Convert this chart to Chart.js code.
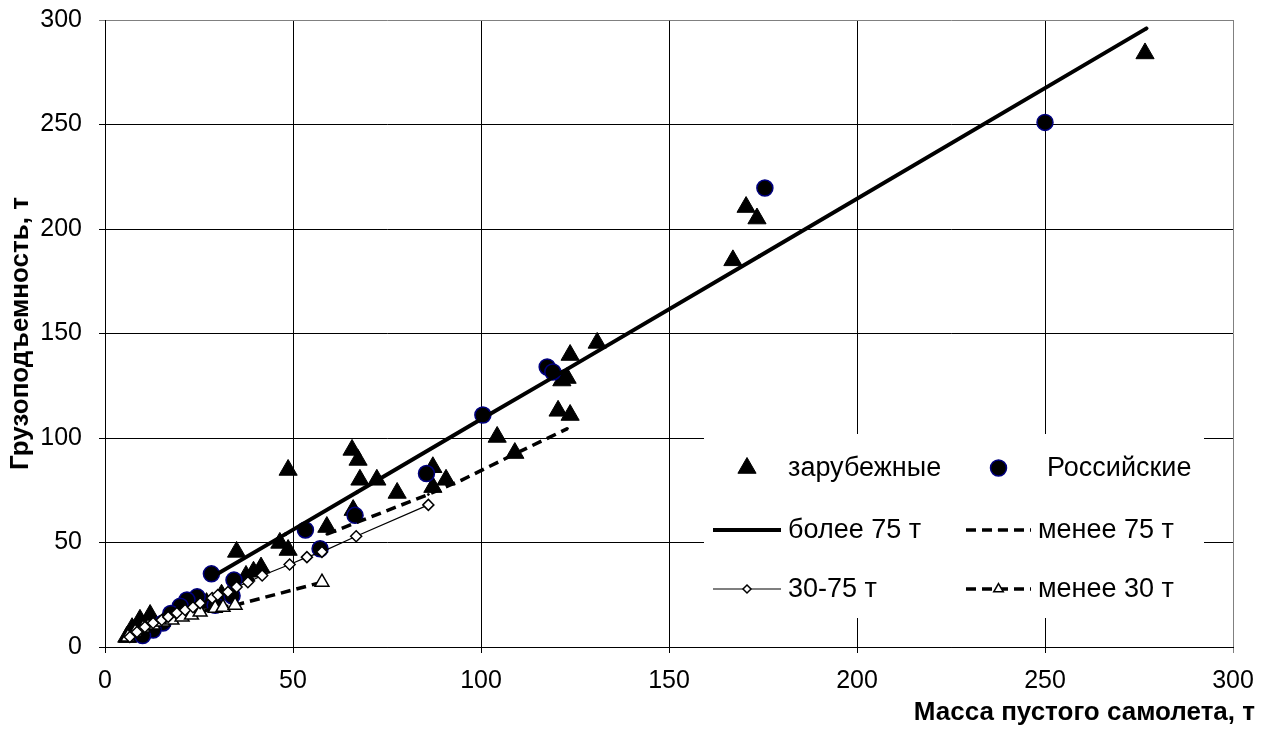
<!DOCTYPE html>
<html>
<head>
<meta charset="utf-8">
<script src="https://cdn.jsdelivr.net/npm/chart.js@4.4.1/dist/chart.umd.min.js"></script>
<style>
  html, body { margin: 0; padding: 0; background: #fff; }
</style>
</head>
<body>
<canvas id="chart" width="1269" height="729"></canvas>
<script>
// ====== данные ======
// зарубежные самолеты
const foreignX = [276.6, 170.5, 173.4, 167, 130.9, 123.7, 122.9, 121.5, 120.5, 123.7,
                  104.3, 109, 87.2, 87.2, 90.7, 77.7, 72.3, 67.8, 67.3, 65.7,
                  66, 59, 48.7, 46.5, 48.7, 35, 41.5, 39.5, 37.5, 31,
                  27, 12, 9.3, 9.8, 7.2, 7.4, 5.8, 6.1];
const foreignY = [284, 210.5, 205, 185, 145.5, 139.7, 128.7, 127.5, 113, 111,
                  100.5, 92.8, 86, 76.5, 80, 73.7, 80, 80, 89.5, 94.3,
                  65.5, 57.4, 84.7, 49.8, 46.4, 45.5, 38, 36, 34, 25,
                  21, 15.3, 13, 10.5, 9, 8.1, 4.8, 4.8];

// российские самолеты
const russianX = [250, 175.5, 117.6, 119.1, 100.5, 85.5, 66.5, 57.2, 53.3, 28.3,
                  34.3, 33.8, 24.5, 21.8, 20, 29.3, 17.5, 15.4, 12.8, 10];
const russianY = [251, 219.6, 134, 131.6, 111, 83, 63, 47, 56, 35,
                  32, 24.5, 24, 22.5, 19.5, 20, 16, 11.5, 8.1, 5.5];

// зависимости
const over75X = [28, 48, 67, 100, 122, 174, 277];
const over75Y = [33, 54, 74, 109, 132, 187, 296];

const under75X = [59, 86, 95, 108, 123];
const under75Y = [54, 73, 80, 91.5, 104.5];

const mid30to75X = [6.6, 8.5, 10.6, 12.8, 15.1, 16.8, 19.1, 21.3, 23.4, 25.3, 28.5,
                    30, 32.7, 35, 38, 41.8, 49.1, 53.7, 57.7, 66.8, 86];
const mid30to75Y = [4.8, 7.2, 9.6, 11.5, 12.9, 14.4, 16.3, 17.7, 19, 21, 23.4,
                    24.9, 26.3, 28.7, 31, 34.2, 39.5, 43, 45.5, 53, 68];

const under30X = [6.1, 8, 10.1, 12.8, 15.4, 17.8, 20.5, 23, 25.3, 29.3, 31.4, 34.6, 57.7];
const under30Y = [4.8, 7.2, 9.1, 10.5, 12, 12.9, 14.4, 15.3, 16.7, 18.6, 19, 20, 31];

const axisMin = 0;
const axisMax = 300;
const axisStep = 50;

const xTitle = 'Масса пустого самолета, т';
const yTitle = 'Грузоподъемность, т';

const FONT = "'Liberation Sans', Arial, sans-serif";

const zip = (xs, ys) => xs.map((x, i) => ({ x: x, y: ys[i] }));

// ====== легенда в рамке внутри поля графика ======
function drawMarker(ctx, style, x, y, r, fill, stroke, lw) {
    ctx.beginPath();
    if (style === 'triangle') {
        ctx.moveTo(x, y - r);
        ctx.lineTo(x + r * 0.866, y + r * 0.5);
        ctx.lineTo(x - r * 0.866, y + r * 0.5);
        ctx.closePath();
    } else if (style === 'rectRot') {
        ctx.moveTo(x, y - r);
        ctx.lineTo(x + r, y);
        ctx.lineTo(x, y + r);
        ctx.lineTo(x - r, y);
        ctx.closePath();
    } else {
        ctx.arc(x, y, r, 0, Math.PI * 2);
    }
    ctx.fillStyle = fill;
    ctx.fill();
    ctx.lineWidth = lw;
    ctx.strokeStyle = stroke;
    ctx.stroke();
}

const boxLegend = {
    id: 'boxLegend',
    afterDraw(chart, args, opts) {
        const ctx = chart.ctx;
        ctx.save();
        ctx.fillStyle = '#fff';
        ctx.fillRect(opts.box[0], opts.box[1], opts.box[2], opts.box[3]);
        ctx.font = '27px ' + FONT;
        ctx.textBaseline = 'middle';
        ctx.textAlign = 'left';
        opts.items.forEach(it => {
            const ds = chart.data.datasets[it.ds];
            if (ds.showLine) {
                ctx.beginPath();
                ctx.setLineDash(ds.borderDash || []);
                ctx.lineWidth = ds.borderWidth;
                ctx.strokeStyle = ds.borderColor;
                ctx.moveTo(it.x0, it.y);
                ctx.lineTo(it.x1, it.y);
                ctx.stroke();
                ctx.setLineDash([]);
            }
            drawMarker(ctx, ds.pointStyle, (it.x0 + it.x1) / 2, it.y, it.r,
                       ds.pointBackgroundColor, ds.pointBorderColor, ds.pointBorderWidth);
            ctx.fillStyle = '#000';
            ctx.fillText(ds.label, it.tx, it.y + 1);
        });

        // подпись оси X (в оригинале заходит правее поля графика)
        ctx.font = 'bold 26px ' + FONT;
        ctx.textAlign = 'right';
        ctx.textBaseline = 'middle';
        ctx.fillText(xTitle, opts.xTitlePos[0], opts.xTitlePos[1]);
        ctx.restore();
    }
};

const gridColor = c => (c.tick && c.tick.value === axisMax) ? '#808080' : '#000';

new Chart(document.getElementById('chart'), {
    type: 'scatter',
    data: {
        datasets: [
            {
                label: 'зарубежные',
                data: zip(foreignX, foreignY),
                pointStyle: 'triangle',
                pointRadius: 10.5,
                pointBackgroundColor: '#000',
                pointBorderColor: '#000',
                pointBorderWidth: 1,
                showLine: false,
                order: 3
            },
            {
                label: 'Российские',
                data: zip(russianX, russianY),
                pointStyle: 'circle',
                pointRadius: 8,
                pointBackgroundColor: '#000',
                pointBorderColor: '#000080',
                pointBorderWidth: 1.5,
                showLine: false,
                order: 2
            },
            {
                label: 'более 75 т',
                data: zip(over75X, over75Y),
                showLine: true,
                borderColor: '#000',
                borderWidth: 4,
                pointStyle: 'circle',
                pointRadius: 1.5,
                pointBackgroundColor: '#000',
                pointBorderColor: '#000',
                pointBorderWidth: 1,
                order: 1
            },
            {
                label: 'менее 75 т',
                data: zip(under75X, under75Y),
                showLine: true,
                borderColor: '#000',
                borderWidth: 3.5,
                borderDash: [10, 6],
                pointStyle: 'circle',
                pointRadius: 1,
                pointBackgroundColor: '#000',
                pointBorderColor: '#000',
                pointBorderWidth: 1,
                order: 1
            },
            {
                label: '30-75 т',
                data: zip(mid30to75X, mid30to75Y),
                showLine: true,
                borderColor: '#000',
                borderWidth: 1.2,
                pointStyle: 'rectRot',
                pointRadius: 5.5,
                pointBackgroundColor: '#fff',
                pointBorderColor: '#000',
                pointBorderWidth: 1.5,
                order: 0
            },
            {
                label: 'менее 30 т',
                data: zip(under30X, under30Y),
                showLine: true,
                borderColor: '#000',
                borderWidth: 3.5,
                borderDash: [10, 6],
                pointStyle: 'triangle',
                pointRadius: 8,
                pointBackgroundColor: '#fff',
                pointBorderColor: '#000',
                pointBorderWidth: 1.5,
                order: 0
            }
        ]
    },
    options: {
        responsive: false,
        animation: false,
        layout: { padding: { top: 20, right: 36, left: 0, bottom: 0 } },
        plugins: {
            legend: { display: false },
            tooltip: { enabled: false },
            boxLegend: {
                box: [704, 434, 500, 184],
                xTitlePos: [1255, 713],
                items: [
                    { ds: 0, x0: 713, x1: 781, tx: 788, y: 468, r: 10.5 },
                    { ds: 1, x0: 966, x1: 1031, tx: 1047, y: 468, r: 8 },
                    { ds: 2, x0: 713, x1: 781, tx: 788, y: 530, r: 1 },
                    { ds: 3, x0: 966, x1: 1031, tx: 1038, y: 530, r: 0.5 },
                    { ds: 4, x0: 713, x1: 781, tx: 788, y: 589, r: 4 },
                    { ds: 5, x0: 966, x1: 1031, tx: 1038, y: 589, r: 5.5 }
                ]
            }
        },
        scales: {
            x: {
                type: 'linear',
                min: axisMin,
                max: axisMax,
                afterFit: s => { s.height = 82; },
                ticks: { stepSize: axisStep, color: '#000', padding: 13, font: { family: FONT, size: 25 } },
                grid: { color: gridColor, lineWidth: 1, tickLength: 6, drawTicks: true },
                border: { display: true, color: '#000', width: 1 },
                title: { display: false }
            },
            y: {
                type: 'linear',
                min: axisMin,
                max: axisMax,
                afterFit: s => {
                    s.width = 105;
                    s.paddingTop = 0;
                    s.paddingBottom = 0;
                },
                ticks: { stepSize: axisStep, color: '#000', padding: 17, font: { family: FONT, size: 25 } },
                grid: { color: gridColor, lineWidth: 1, tickLength: 6, drawTicks: true },
                border: { display: true, color: '#000', width: 1 },
                title: {
                    display: true,
                    text: yTitle,
                    color: '#000',
                    font: { family: FONT, size: 26, weight: 'bold' },
                    padding: { top: 5, bottom: 0 }
                }
            }
        }
    },
    plugins: [boxLegend]
});
</script>
</body>
</html>
